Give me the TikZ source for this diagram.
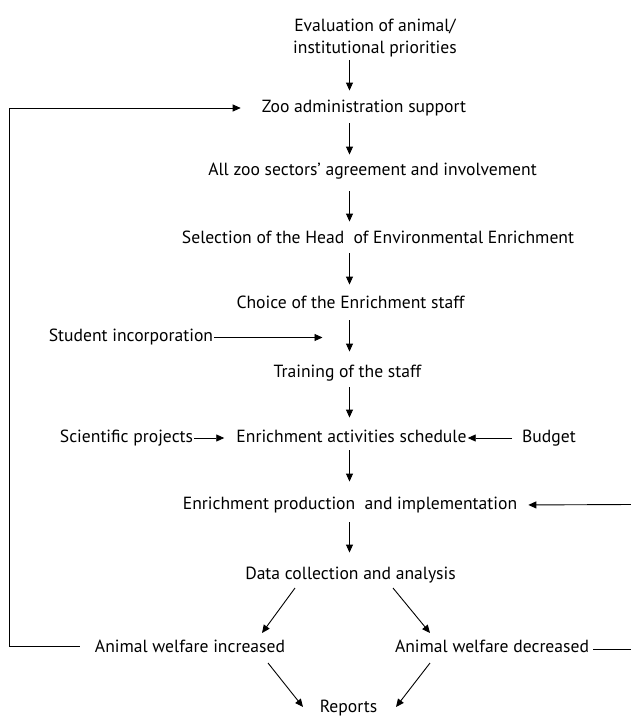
\documentclass[tikz,border=0pt]{standalone}
\usepackage{fontspec}
\setmainfont{PT Sans}
\usetikzlibrary{arrows.meta}
\tikzset{
  lbl/.style={inner sep=0pt, text height=12.5pt, text depth=4pt, font=\fontsize{17.6}{22}\selectfont},
  arr/.style={-{Triangle[length=8pt,width=7pt]}, line width=0.9pt},
  ln/.style={line width=0.9pt},
}
\begin{document}
\begin{tikzpicture}[x=1pt,y=-1pt]
\useasboundingbox (0,0) rectangle (631,717);
\coordinate (col) at (349.5,0);
\node[inner sep=0pt, align=center, anchor=south, font=\fontsize{17.6}{22}\selectfont] (eval) at (375,57) {Evaluation of animal/\\institutional priorities};
\node[lbl] (zoo) at (364,108) {Zoo administration support};
\node[lbl] (allz) at (372.5,171) {All zoo sectors’ agreement and involvement};
\node[lbl] (sel) at (378,239) {Selection of the Head \ of Environmental Enrichment};
\node[lbl] (choice) at (350.5,304) {Choice of the Enrichment staff};
\node[lbl] (stud) at (131,337.5) {Student incorporation};
\node[lbl] (train) at (347.5,373) {Training of the staff};
\node[lbl] (sci) at (126.5,438) {Scientific projects};
\node[lbl] (sched) at (351.5,438) {Enrichment activities schedule};
\node[lbl] (budget) at (549,438) {Budget};
\node[lbl] (prod) at (350,505) {Enrichment production \ and implementation};
\node[lbl] (data) at (350.5,575) {Data collection and analysis};
\node[lbl] (winc) at (190,648) {Animal welfare increased};
\node[lbl] (wdec) at (492,648) {Animal welfare decreased};
\node[lbl] (rep) at (348.5,708) {Reports};
\coordinate (loop) at (9,108);
\coordinate (rin) at (631,504.5);
\coordinate (rout) at (631,649);

% main column
\draw[arr, shorten <=3pt, shorten >=9pt] (eval.south -| col) -- (zoo.north -| col);
\draw[arr, shorten <=7pt, shorten >=8pt] (zoo.south -| col) -- (allz.north -| col);
\draw[arr, shorten <=12pt, shorten >=9pt] (allz.south -| col) -- (sel.north -| col);
\draw[arr, shorten <=6pt, shorten >=11pt] (sel.south -| col) -- (choice.north -| col);
\draw[arr, shorten <=8pt, shorten >=13pt] (choice.south -| col) -- (train.north -| col);
\draw[arr, shorten <=6pt, shorten >=12pt] (train.south -| col) -- (sched.north -| col);
\draw[arr, shorten <=4pt, shorten >=15pt] (sched.south -| col) -- (prod.north -| col);
\draw[arr, shorten <=9pt, shorten >=14pt] (prod.south -| col) -- (data.north -| col);

% side inputs
\draw[arr, shorten <=1pt, shorten >=27pt] (stud.east) -- (stud.east -| col);
\draw[arr, shorten <=1pt, shorten >=12pt] (sci.east) -- (sched.west);
\draw[arr, shorten <=10pt, shorten >=1pt] (budget.west) -- (sched.east);
\draw[arr, shorten >=11pt] (rin) -- (prod.east);

% branches
\draw[arr] ([xshift=-55.5pt,yshift=-13pt]data.center) -- ([xshift=72pt,yshift=15pt]winc.center);
\draw[arr] ([xshift=42.5pt,yshift=-13pt]data.center) -- ([xshift=-62pt,yshift=15pt]wdec.center);
\draw[arr] ([xshift=78pt,yshift=-15pt]winc.center) -- ([xshift=-45.5pt,yshift=1pt]rep.center);
\draw[arr] ([xshift=-62pt,yshift=-15pt]wdec.center) -- ([xshift=47.5pt,yshift=1pt]rep.center);

% feedback
\draw[arr] ([xshift=-15pt,yshift=2pt]winc.west) -| (loop) -- ([xshift=-21pt]zoo.west);
\draw[ln, shorten <=4pt] ([yshift=-1pt]wdec.east) -- (rout);
\end{tikzpicture}
\end{document}
